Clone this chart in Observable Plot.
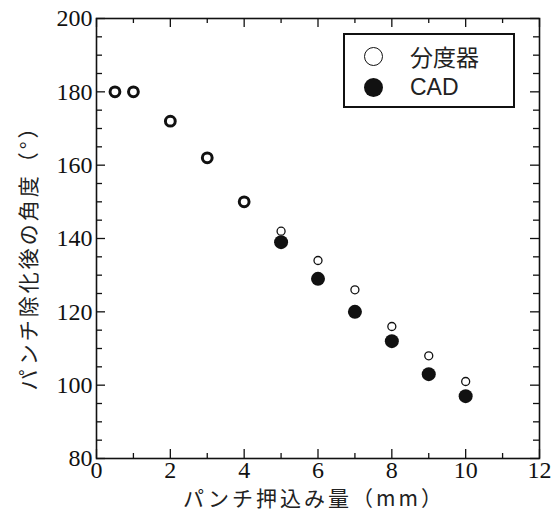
<!DOCTYPE html>
<html lang="en">
<head>
<meta charset="utf-8">
<script src="https://cdn.jsdelivr.net/npm/d3@7"></script>
<script src="https://cdn.jsdelivr.net/npm/@observablehq/plot@0.6"></script>
<style>
  html, body { margin: 0; padding: 0; background: #fff; }
  #wrap { position: relative; width: 553px; height: 510px; }
  #legend {
    position: absolute; left: 343px; top: 33px; width: 168px; height: 71px;
    border: 2px solid #111; background: #fff; box-sizing: content-box;
    font-family: "Liberation Sans", "Noto Sans CJK JP", sans-serif; font-size: 23px; color: #222;
  }
  .row { position: absolute; left: 0; height: 30px; display: flex; align-items: center; }
  .sym { width: 19px; height: 19px; border-radius: 50%; box-sizing: border-box; margin-left: 19px; margin-right: 27px; }
  .open { border: 1.4px solid #111; background: #fff; }
  .fill { background: #111; }
</style>
</head>
<body>
<div id="wrap"></div>
<script>
// Data
const xProtractor = [0.5, 1, 2, 3, 4, 5, 6, 7, 8, 9, 10];
const yProtractor = [180, 180, 172, 162, 150, 142, 134, 126, 116, 108, 101];
const xCAD = [5, 6, 7, 8, 9, 10];
const yCAD = [139, 129, 120, 112, 103, 97];
const seriesNames = ["分度器", "CAD"];
const xTicks = [0, 2, 4, 6, 8, 10, 12];
const xMinor = [1, 3, 5, 7, 9, 11];
const yTicks = [80, 100, 120, 140, 160, 180, 200];
const yMinor = d3.range(85, 200, 5).filter(v => v % 20 !== 0);
const xLabel = "パンチ押込み量（mm）";
const yLabel = "パンチ除化後の角度（°）";

const protractor = xProtractor.map((x, i) => ({x, y: yProtractor[i], alone: !xCAD.includes(x)}));
const cad = xCAD.map((x, i) => ({x, y: yCAD[i]}));

const W = 553, H = 510;
const mL = 96, mR = 14, mT = 18, mB = 52;
const ph = H - mT - mB, pw = W - mL - mR;
const maj = 9, mnr = 5;
const jp = "Noto Sans CJK JP";
const serif = "Liberation Serif";

const chart = Plot.plot({
  width: W, height: H,
  marginLeft: mL, marginRight: mR, marginTop: mT, marginBottom: mB,
  x: {domain: [0, 12], axis: null},
  y: {domain: [80, 200], axis: null},
  marks: [
    // tick labels as text marks placed through the scales
    Plot.text(xTicks, {x: d => d, text: d => String(d), frameAnchor: "bottom", lineAnchor: "top", dy: 2, fontSize: 24, fontFamily: serif, fill: "#111"}),
    Plot.text(yTicks, {y: d => d, text: d => String(d), frameAnchor: "left", textAnchor: "end", lineAnchor: "middle", dx: -4, fontSize: 24, fontFamily: serif, fill: "#111"}),
    Plot.frame({stroke: "#111", strokeWidth: 1.6}),
    // inward ticks on all four sides
    Plot.tickX(xTicks, {x: d => d, insetTop: ph - maj, stroke: "#111", strokeWidth: 1.3}),
    Plot.tickX(xTicks, {x: d => d, insetBottom: ph - maj, stroke: "#111", strokeWidth: 1.3}),
    Plot.tickX(xMinor, {x: d => d, insetTop: ph - mnr, stroke: "#111", strokeWidth: 1.3}),
    Plot.tickX(xMinor, {x: d => d, insetBottom: ph - mnr, stroke: "#111", strokeWidth: 1.3}),
    Plot.tickY(yTicks, {y: d => d, insetRight: pw - maj, stroke: "#111", strokeWidth: 1.3}),
    Plot.tickY(yTicks, {y: d => d, insetLeft: pw - maj, stroke: "#111", strokeWidth: 1.3}),
    Plot.tickY(yMinor, {y: d => d, insetRight: pw - mnr - 1, stroke: "#111", strokeWidth: 1.3}),
    Plot.tickY(yMinor, {y: d => d, insetLeft: pw - mnr - 1, stroke: "#111", strokeWidth: 1.3}),
    // data
    Plot.dot(cad, {x: "x", y: "y", r: 7, fill: "#111", stroke: "none"}),
    Plot.dot(protractor.filter(d => d.alone), {x: "x", y: "y", r: 4.9, fill: "#fff", stroke: "#111", strokeWidth: 3}),
    Plot.dot(protractor.filter(d => !d.alone), {x: "x", y: "y", r: 4, fill: "#fff", stroke: "#111", strokeWidth: 1.3}),
    // axis titles
    Plot.text([xLabel], {text: d => d, frameAnchor: "bottom", lineAnchor: "middle", dy: 41, dx: -4, fontSize: 21, fontFamily: jp, fill: "#222"}),
    Plot.text([yLabel], {text: d => d, frameAnchor: "left", textAnchor: "middle", lineAnchor: "middle", rotate: -90, dx: -67, dy: 14, fontSize: 21, fontFamily: jp, fill: "#222"})
  ]
});

const wrap = document.getElementById("wrap");
wrap.appendChild(chart);
// widen the CJK titles like the original
d3.select(chart).selectAll("text").filter(function() { return /[ァ-ン]/.test(this.textContent); })
  .attr("lang", "ja")
  .style("letter-spacing", "3px");
const legend = document.createElement("div");
legend.id = "legend";
legend.innerHTML =
  `<div class="row" style="top:6px"><span class="sym open"></span><span lang="ja" style="font-family:'${jp}'">${seriesNames[0]}</span></div>` +
  `<div class="row" style="top:37px"><span class="sym fill"></span><span>${seriesNames[1]}</span></div>`;
wrap.appendChild(legend);
</script>
</body>
</html>
